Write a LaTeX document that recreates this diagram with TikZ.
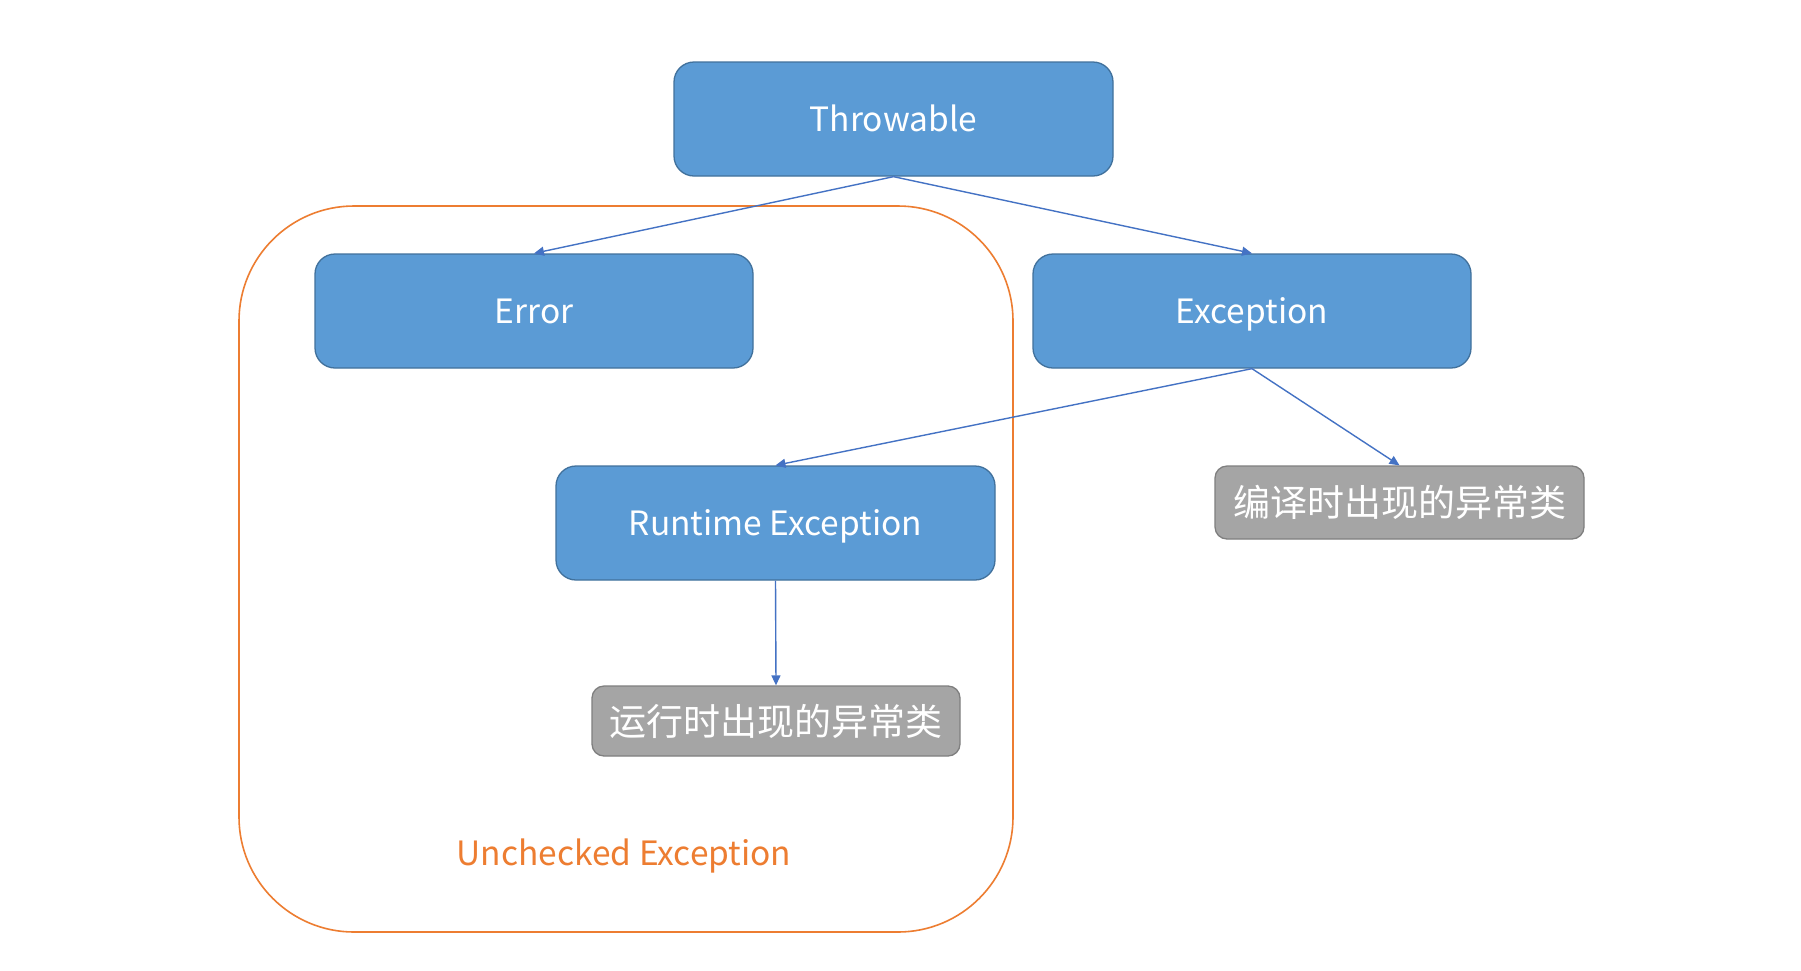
\documentclass[tikz,border=0pt]{standalone}
\usepackage{fontspec}
\setmainfont{Noto Sans CJK SC}
\usetikzlibrary{arrows.meta}
\definecolor{boxblue}{HTML}{5B9BD5}
\definecolor{boxblueline}{HTML}{41719C}
\definecolor{boxgray}{HTML}{A5A5A5}
\definecolor{boxgrayline}{HTML}{7F7F7F}
\definecolor{linkblue}{HTML}{4472C4}
\definecolor{grouporange}{HTML}{ED7D31}
\tikzset{
  bluebox/.style={draw=boxblueline, line width=1.3pt, fill=boxblue, rounded corners=20pt,
    text=white, inner sep=0pt, text height=24.6pt, text depth=0pt,
    font=\fontsize{33.5}{40}\selectfont},
  graybox/.style={draw=boxgrayline, line width=1.3pt, fill=boxgray, rounded corners=12pt,
    text=white, inner sep=0pt, font=\fontsize{37}{42}\selectfont},
  link/.style={draw=linkblue, line width=1.4pt, -{Triangle[length=10pt,width=9pt]}},
  group/.style={draw=grouporange, line width=1.6pt, rounded corners=115pt},
}
\begin{document}
\begin{tikzpicture}[x=1pt,y=-1pt]
\useasboundingbox (0,0) rectangle (1801,970);
\fill[white] (0,0) rectangle (1801,970);
\draw[group] (239,206) rectangle (1013,932);
\node[text=grouporange, inner sep=0pt, text height=24.6pt, text depth=0pt, font=\fontsize{33.5}{40}\selectfont] (unchk) at (624,853) {Unchecked Exception};
\node[bluebox, minimum width=439pt, minimum height=114pt] (thr) at (893.5,119) {Throwable};
\node[bluebox, minimum width=438pt, minimum height=114pt] (err) at (534,311) {Error};
\node[bluebox, minimum width=438pt, minimum height=114pt] (exc) at (1252,311) {Exception};
\node[bluebox, minimum width=439pt, minimum height=114pt] (rt) at (775.5,523) {Runtime Exception};
\node[graybox, minimum width=369pt, minimum height=73pt] (cmp) at (1399.5,502.5) {编译时出现的异常类};
\node[graybox, minimum width=368pt, minimum height=70pt] (run) at (776,721) {运行时出现的异常类};
\draw[link] (thr.south) -- (err.north);
\draw[link] (thr.south) -- (exc.north);
\draw[link] (exc.south) -- (rt.north);
\draw[link] (exc.south) -- (cmp.north);
\draw[link] (rt.south) -- (run.north);
\end{tikzpicture}
\end{document}
